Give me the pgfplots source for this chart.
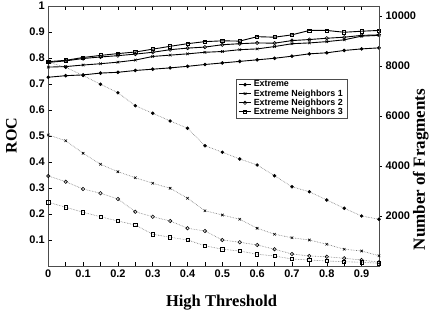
\documentclass[border=0pt]{standalone}
\usepackage{pgfplots}
\pgfplotsset{compat=1.18}
\usepackage{pgfplotstable}
\usepackage{fontspec}
\setmainfont{Liberation Serif}
\setsansfont{Liberation Sans}

\pgfplotstableread{
x     ext    nA     nB     nC
0.00  0.726  0.765  0.783  0.786
0.05  0.732  0.767  0.789  0.791
0.10  0.735  0.773  0.798  0.802
0.15  0.742  0.778  0.804  0.810
0.20  0.745  0.784  0.809  0.817
0.25  0.752  0.792  0.815  0.823
0.30  0.757  0.806  0.822  0.834
0.35  0.762  0.811  0.832  0.845
0.40  0.768  0.816  0.838  0.855
0.45  0.775  0.822  0.842  0.863
0.50  0.781  0.825  0.851  0.866
0.55  0.787  0.832  0.855  0.865
0.60  0.793  0.835  0.858  0.882
0.65  0.799  0.844  0.857  0.880
0.70  0.807  0.855  0.867  0.889
0.75  0.816  0.858  0.871  0.906
0.80  0.820  0.863  0.876  0.906
0.85  0.829  0.870  0.880  0.899
0.90  0.835  0.884  0.887  0.903
0.95  0.839  0.887  0.889  0.906
}\roc

\pgfplotstableread{
x     ext   nA    nB    nC
0.00  8150  5240  3600  2550
0.05  7950  5010  3370  2350
0.10  7620  4510  3080  2150
0.15  7270  4070  2910  1970
0.20  6930  3770  2680  1800
0.25  6410  3530  2170  1640
0.30  6110  3310  1970  1270
0.35  5800  3110  1800  1150
0.40  5510  2710  1510  1040
0.45  4810  2210  1400  810
0.50  4550  2040  1040  670
0.55  4280  1870  950   600
0.60  4040  1510  840   470
0.65  3610  1270  670   400
0.70  3170  1130  480   280
0.75  2970  1040  400   240
0.80  2640  870   370   200
0.85  2310  670   310   170
0.90  2000  600   240   150
0.95  1870  410   150   110
}\frag

\begin{document}
\begin{tikzpicture}
\path[use as bounding box] (-48.3pt,-45pt) rectangle (391.7pt,266pt);
\begin{axis}[
  at={(0pt,0pt)}, anchor=south west,
  scale only axis, width=330.7pt, height=260pt,
  xmin=0, xmax=0.95, ymin=0, ymax=1,
  xtick={0,0.1,0.2,0.3,0.4,0.5,0.6,0.7,0.8,0.9},
  xticklabels={0,0.1,0.2,0.3,0.4,0.5,0.6,0.7,0.8,0.9},
  minor xtick={0.05,0.15,0.25,0.35,0.45,0.55,0.65,0.75,0.85,0.95},
  ytick={0.1,0.2,0.3,0.4,0.5,0.6,0.7,0.8,0.9,1},
  yticklabels={0.1,0.2,0.3,0.4,0.5,0.6,0.7,0.8,0.9,1},
  xtick pos=both, ytick pos=left,
  tick align=inside, major tick length=4pt, minor tick length=4pt,
  tick style={black, line width=0.5pt},
  axis line style={black!70, line width=0.6pt},
  ticklabel style={font=\sffamily\bfseries\fontsize{11}{13}\selectfont},
  xlabel={High Threshold},
  ylabel={ROC},
  xlabel style={font=\bfseries\fontsize{16.5}{19}\selectfont, at={(axis description cs:0.524,-0.1565)}, anchor=base},
  ylabel style={font=\bfseries\fontsize{16}{19}\selectfont, at={(axis description cs:-0.0956,0.502)}, anchor=base, rotate=0},
  legend style={at={(0.568,0.721)}, anchor=north west, draw=black!70, fill=white,
    font=\sffamily\bfseries\fontsize{8.9}{9.5}\selectfont, inner xsep=2pt, inner ysep=1.5pt, row sep=0pt,
    nodes={inner ysep=0.6pt},
    /tikz/every even column/.append style={column sep=2pt}},
  legend cell align=left,
  legend image code/.code={\draw[mark repeat=2,mark phase=2] plot coordinates {(0cm,0cm) (0.22cm,0cm) (0.44cm,0cm)};},
  clip=false,
]
\addplot[black, line width=0.9pt, mark=*, mark size=1.3pt] table[x=x,y=ext] {\roc};
\addlegendentry{Extreme}
\addplot[black, line width=0.9pt, mark=x, mark size=1.8pt, mark options={line width=0.6pt}] table[x=x,y=nA] {\roc};
\addlegendentry{Extreme Neighbors 1}
\addplot[black, line width=0.9pt, mark=o, mark size=1.7pt, mark options={fill=white, line width=0.6pt}] table[x=x,y=nB] {\roc};
\addlegendentry{Extreme Neighbors 2}
\addplot[black, line width=0.9pt, mark=square, mark size=1.6pt, mark options={fill=white, line width=0.6pt}] table[x=x,y=nC] {\roc};
\addlegendentry{Extreme Neighbors 3}
\end{axis}
\begin{axis}[
  at={(0pt,0pt)}, anchor=south west,
  scale only axis, width=330.7pt, height=260pt,
  xmin=0, xmax=0.95, ymin=0, ymax=10400,
  axis x line=none, axis y line*=right,
  ytick={2000,4000,6000,8000,10000},
  yticklabels={2000,4000,6000,8000,10000},
  scaled y ticks=false,
  tick align=outside, major tick length=3pt,
  tick style={black, line width=0.5pt},
  axis line style={black!70, line width=0.6pt},
  ticklabel style={font=\sffamily\bfseries\fontsize{11}{13}\selectfont},
  ylabel={Number of Fragments},
  ylabel style={font=\bfseries\fontsize{17}{20}\selectfont, at={(axis description cs:1.139,0.371)}, anchor=base, rotate=0},
  clip=false,
]
\addplot[black!55, densely dotted, line width=0.6pt, mark=*, mark size=1.4pt, mark options={solid, black}] table[x=x,y=ext] {\frag};
\addplot[black!55, densely dotted, line width=0.6pt, mark=x, mark size=1.8pt, mark options={solid, black, line width=0.6pt}] table[x=x,y=nA] {\frag};
\addplot[black!55, densely dotted, line width=0.6pt, mark=o, mark size=1.7pt, mark options={solid, black, fill=white, line width=0.6pt}] table[x=x,y=nB] {\frag};
\addplot[black!55, densely dotted, line width=0.6pt, mark=square, mark size=1.6pt, mark options={solid, black, fill=white, line width=0.6pt}] table[x=x,y=nC] {\frag};
\end{axis}
\end{tikzpicture}
\end{document}
